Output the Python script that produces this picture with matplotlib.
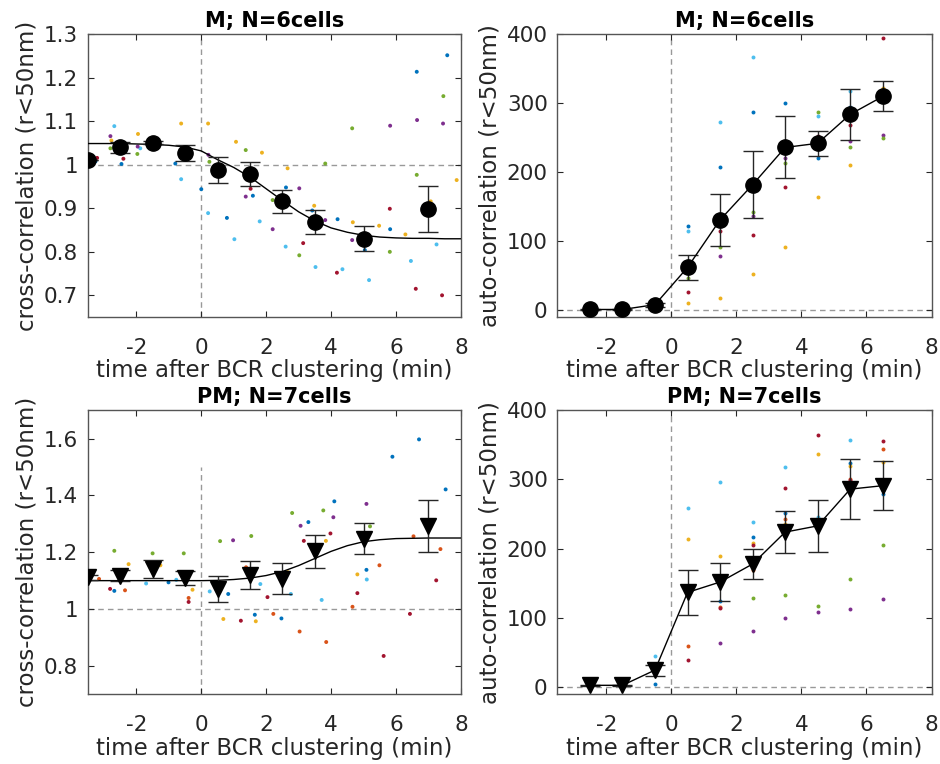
import numpy as np
import matplotlib
matplotlib.use('Agg')
import matplotlib.pyplot as plt
from matplotlib.ticker import FormatStrFormatter

# matlab default line colours: blue, orange, yellow, purple, green, light blue, red
cell_colors = ['#0072BD', '#D95319', '#EDB120', '#7E2F8E', '#77AC30', '#4DBEEE', '#A2142F']

# ---------- M, cross-correlation ----------
m_cc_t = [-3.5, -2.5, -1.5, -0.5, 0.5, 1.5, 2.5, 3.5, 5, 7]
m_cc_mean = [1.011, 1.040, 1.051, 1.027, 0.989, 0.979, 0.916, 0.868, 0.830, 0.899]
m_cc_err = [0.0, 0.012, 0.004, 0.019, 0.030, 0.028, 0.026, 0.028, 0.029, 0.0525]
fit_t = [-3.5, -3, -2.5, -2, -1.5, -1, -0.5, 0, 0.5, 1, 1.5, 2, 2.5, 3, 3.5, 4,
         4.5, 5, 5.5, 6, 6.5, 7, 7.5, 8]
m_cc_fit = [1.049, 1.049, 1.049, 1.048, 1.047, 1.045, 1.041, 1.032, 1.012, 0.994, 0.972,
            0.945, 0.918, 0.892, 0.871, 0.855, 0.845, 0.838, 0.834, 0.832, 0.831, 0.831,
            0.830, 0.830]
m_cc_px = [-2.68, -1.88, -0.62, 0.21, 1.02, 1.80, 2.60, 3.52, 4.35, 5.17, 6.46, 7.25,
           -3.26, -2.46, -0.80, 0.0, 0.79, 1.59, 2.61, 3.42, 4.20, 5.04, 5.82, 6.64, 7.58,
           -2.77, -1.95, -0.62, 0.21, 1.07, 1.87, 2.66, 3.48, 4.67, 5.48, 6.29, 7.07, 7.87,
           -2.80, -1.96, 0.22, 1.37, 2.20, 3.02, 3.82, 4.65, 5.82, 6.65, 7.45,
           -2.80, -1.97, 0.25, 1.37, 2.20, 3.02, 3.82, 4.65, 5.81, 6.64, 7.46,
           -3.21, -2.40, 1.52, 3.14, 4.18, 5.81, 6.61, 7.42]
m_cc_py = [1.089, 1.038, 0.967, 0.889, 0.829, 0.870, 0.812, 0.765, 0.760, 0.735, 0.779, 0.817,
           1.008, 1.002, 1.003, 0.944, 0.878, 0.929, 0.948, 0.895, 0.875, 0.804, 0.852, 1.214, 1.252,
           1.056, 1.071, 1.095, 1.095, 1.053, 1.028, 0.992, 0.906, 0.868, 0.860, 0.840, 0.916, 0.965,
           1.066, 1.042, 1.023, 0.927, 0.852, 0.946, 0.873, 0.827, 1.090, 1.103, 1.095,
           1.038, 1.025, 1.007, 1.034, 0.919, 0.792, 1.003, 1.084, 0.800, 0.977, 1.158,
           1.016, 1.014, 0.945, 0.820, 0.752, 0.899, 0.715, 0.700]
m_cc_pc = [5] * 12 + [0] * 13 + [2] * 13 + [3] * 11 + [4] * 11 + [6] * 8

# ---------- M, auto-correlation ----------
bins_t = [-2.5, -1.5, -0.5, 0.5, 1.5, 2.5, 3.5, 4.5, 5.5, 6.5]
m_ac_mean = [1, 1, 8, 62, 131, 182, 236, 242, 284, 310]
m_ac_err = [1, 1, 3, 18.5, 38, 49, 45, 18.5, 37, 21.7]
# one row per cell: blue, yellow, purple, green, light blue, red
m_ac_cells = [0, 2, 3, 4, 5, 6]
m_ac_vals = [
    [1, 0, 5, 122, 207, 288, 301, 220, 295, 305],
    [0, 1, 10, 10, 18, 52, 91, 164, 211, 322],
    [2, 1, 6, 55, 78, 136, 220, 245, 245, 254],
    [1, 2, 12, 47, 91, 143, 214, 288, 236, 250],
    [0, 1, 8, 115, 273, 367, 410, 282, 318, 312],
    [1, 0, 7, 27, 115, 109, 179, 253, 269, 395],
]

# ---------- PM, cross-correlation ----------
pm_cc_t = [-3.5, -2.5, -1.5, -0.5, 0.5, 1.5, 2.5, 3.5, 5, 7]
pm_cc_mean = [1.112, 1.118, 1.142, 1.108, 1.070, 1.121, 1.107, 1.204, 1.248, 1.291]
pm_cc_err = [0.008, 0.02, 0.031, 0.025, 0.046, 0.049, 0.055, 0.058, 0.055, 0.091]
pm_cc_fit = [1.100, 1.100, 1.100, 1.100, 1.100, 1.100, 1.100, 1.100, 1.101, 1.104, 1.109,
             1.118, 1.132, 1.153, 1.178, 1.203, 1.223, 1.237, 1.244, 1.248, 1.249, 1.250,
             1.250, 1.250]
pm_cc_px = [-3.47, -3.15, -2.81, -2.68, -2.35, -2.68, -2.24, -1.70, -1.50, -1.26, -1.01,
            -0.77, -0.54, -0.39, -0.39, -0.27, 0.26, 0.58, 0.83, 0.68, 0.98, 1.22, 1.38,
            1.54, 1.65, 1.68, 1.82, 2.04, 2.22, 2.47, 2.66, 2.76, 2.80, 3.03, 3.06, 3.16,
            3.30, 3.71, 3.76, 3.84, 3.85, 3.98, 4.07, 4.10, 4.66, 4.81, 4.81, 5.10, 5.09,
            5.09, 5.20, 5.49, 5.62, 5.89, 6.43, 6.54, 6.71, 7.24, 7.37, 7.53]
pm_cc_py = [1.130, 1.106, 1.071, 1.064, 1.066, 1.205, 1.158, 1.090, 1.196, 1.154, 1.094,
            1.103, 1.196, 1.039, 1.025, 1.068, 1.062, 1.239, 1.053, 0.965, 1.242, 0.959, 1.147,
            1.257, 0.980, 0.957, 1.088, 1.042, 0.983, 0.967, 1.130, 1.053, 1.338, 0.921, 1.293,
            1.240, 1.306, 1.032, 1.347, 1.240, 0.884, 1.266, 1.323, 1.379, 1.008, 1.122, 1.056,
            1.104, 1.138, 1.370, 1.291, 1.154, 0.835, 1.536, 0.983, 1.256, 1.597, 1.101, 1.211,
            1.421]
pm_cc_pc = [2, 1, 6, 0, 1, 4, 2, 5, 4, 2, 0,
            5, 4, 1, 6, 2, 5, 4, 0, 2, 3, 6, 1,
            4, 0, 2, 5, 6, 1, 0, 2, 5, 4, 1, 3,
            6, 0, 5, 4, 2, 1, 6, 3, 0, 1, 2, 6,
            5, 0, 3, 4, 1, 6, 0, 6, 1, 0, 6, 1,
            0]

# ---------- PM, auto-correlation ----------
pm_ac_mean = [3, 3, 25, 137, 152, 178, 224, 233, 286, 291]
pm_ac_err = [1, 1, 8, 32, 28, 21, 30, 37, 43, 35]
# one row per cell: blue, orange, yellow, purple, green, light blue, red
pm_ac_cells = [0, 1, 2, 3, 4, 5, 6]
pm_ac_vals = [
    [3, 3, 5, 140, 125, 217, 251, 230, 324, 279],
    [3, 3, 22, 60, 116, 170, 243, 228, 300, 344],
    [3, 3, 25, 214, 190, 209, 236, 336, 320, 325],
    [3, 3, 20, 135, 64, 82, 100, 109, 113, 127],
    [3, 3, 24, 145, 155, 129, 133, 117, 156, 206],
    [3, 3, 45, 259, 296, 238, 318, 246, 357, 285],
    [3, 3, 34, 39, 114, 206, 287, 364, 299, 355],
]

xlab = 'time after BCR clustering (min)'
text_col = '#262626'
fs = 16.5

plt.rcParams['font.family'] = 'DejaVu Sans'
plt.rcParams['axes.unicode_minus'] = False
fig = plt.figure(figsize=(9.4, 7.64), dpi=100)

ax_tl = fig.add_axes([0.0933, 0.585, 0.397, 0.370])
ax_tr = fig.add_axes([0.593, 0.585, 0.398, 0.370])
ax_bl = fig.add_axes([0.0933, 0.0912, 0.397, 0.372])
ax_br = fig.add_axes([0.593, 0.0912, 0.398, 0.372])


def style(ax, ylim, yticks, ylabel, title, fmt):
    ax.set_xlim(-3.5, 8)
    ax.set_ylim(*ylim)
    ax.set_xticks([-2, 0, 2, 4, 6, 8])
    ax.set_yticks(yticks)
    ax.yaxis.set_major_formatter(FormatStrFormatter(fmt))
    ax.tick_params(direction='in', top=True, right=True, length=4, width=0.8,
                   color=text_col, labelcolor=text_col, labelsize=15.5)
    ax.tick_params(axis='x', pad=15)
    ax.tick_params(axis='y', pad=7)
    for s in ax.spines.values():
        s.set_color('#555555')
        s.set_linewidth(1.0)
    ax.set_xlabel(xlab, fontsize=fs, color=text_col, labelpad=1)
    ax.set_ylabel(ylabel, fontsize=fs, color=text_col, labelpad=4)
    ax.set_title(title, fontsize=15, fontweight='bold', pad=5)


dash = dict(color='#999999', linestyle='--', linewidth=1.0, dashes=(4, 3), zorder=1)
ebar = dict(fmt='none', ecolor='#262626', elinewidth=1.0, capsize=7, capthick=1.0, zorder=4)

# top-left
ax = ax_tl
ax.axvline(0, **dash)
ax.axhline(1, **dash)
ax.scatter(m_cc_px, m_cc_py, s=8, c=[cell_colors[i] for i in m_cc_pc], linewidths=0, zorder=2)
ax.plot(fit_t, m_cc_fit, color='black', linewidth=1.0, zorder=3)
ax.errorbar(m_cc_t, m_cc_mean, yerr=m_cc_err, **ebar)
ax.plot(m_cc_t, m_cc_mean, 'o', color='black', markersize=11, zorder=5)
style(ax, (0.65, 1.3), [0.7, 0.8, 0.9, 1.0, 1.1, 1.2, 1.3], 'cross-correlation (r<50nm)',
      'M; N=6cells', '%g')

# top-right
ax = ax_tr
ax.axvline(0, **dash)
ax.axhline(0, **dash)
for row, ci in zip(m_ac_vals, m_ac_cells):
    ax.scatter(bins_t[3:], row[3:], s=8, color=cell_colors[ci], linewidths=0, zorder=2)
ax.errorbar(bins_t, m_ac_mean, yerr=m_ac_err, **ebar)
ax.plot(bins_t, m_ac_mean, '-o', color='black', linewidth=1.0, markersize=11, zorder=5)
style(ax, (-10, 400), [0, 100, 200, 300, 400], 'auto-correlation (r<50nm)',
      'M; N=6cells', '%g')

# bottom-left
ax = ax_bl
ax.plot([0, 0], [0.7, 1.5], **dash)
ax.axhline(1, **dash)
ax.scatter(pm_cc_px, pm_cc_py, s=8, c=[cell_colors[i] for i in pm_cc_pc], linewidths=0, zorder=2)
ax.plot(fit_t, pm_cc_fit, color='black', linewidth=1.0, zorder=3)
ax.errorbar(pm_cc_t, pm_cc_mean, yerr=pm_cc_err, **ebar)
ax.plot(pm_cc_t, pm_cc_mean, 'v', color='black', markersize=12, zorder=5)
style(ax, (0.7, 1.7), [0.8, 1.0, 1.2, 1.4, 1.6], 'cross-correlation (r<50nm)',
      'PM; N=7cells', '%g')

# bottom-right
ax = ax_br
ax.axvline(0, **dash)
ax.axhline(0, **dash)
for row, ci in zip(pm_ac_vals, pm_ac_cells):
    ax.scatter(bins_t[2:], row[2:], s=8, color=cell_colors[ci], linewidths=0, zorder=2)
ax.errorbar(bins_t, pm_ac_mean, yerr=pm_ac_err, **ebar)
ax.plot(bins_t, pm_ac_mean, '-v', color='black', linewidth=1.0, markersize=12, zorder=5)
style(ax, (-10, 400), [0, 100, 200, 300, 400], 'auto-correlation (r<50nm)',
      'PM; N=7cells', '%g')

fig.savefig('out.png', dpi=100, facecolor='white')
